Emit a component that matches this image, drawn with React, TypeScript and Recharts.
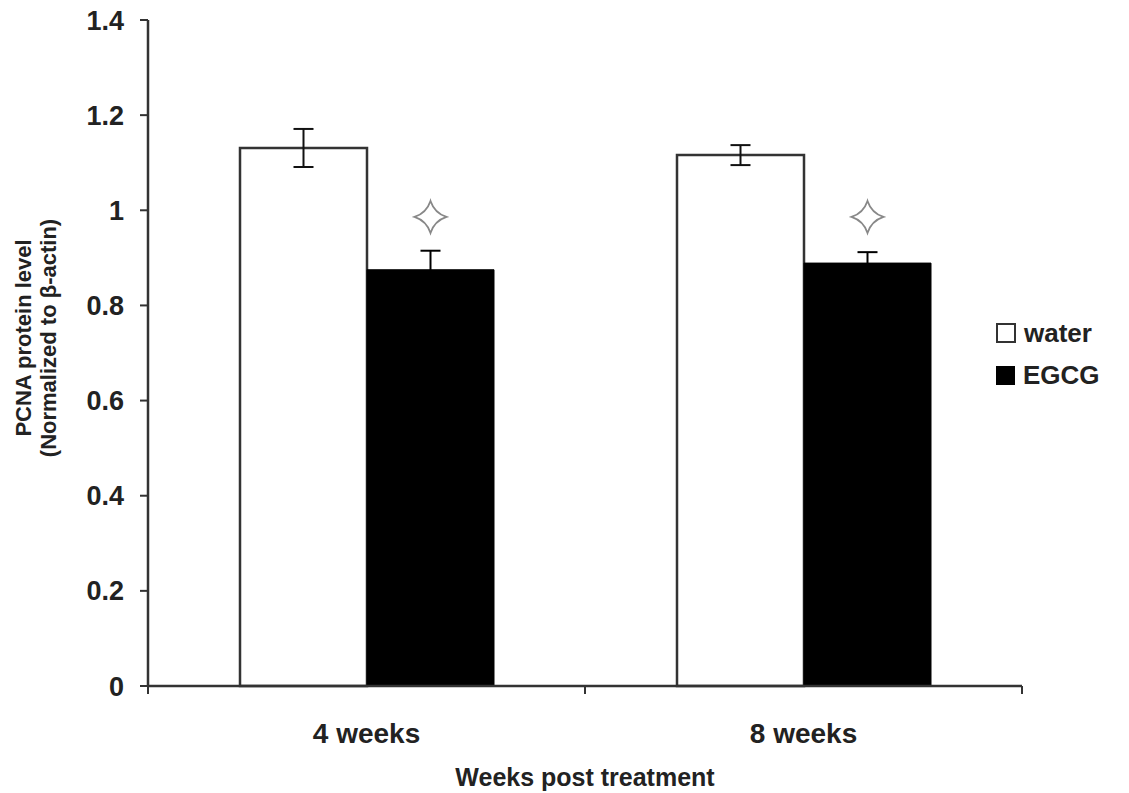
import React from 'react';
import { BarChart, Bar, XAxis, YAxis, ErrorBar, Legend, Rectangle } from 'recharts';

const categories = ['4 weeks', '8 weeks'];
const waterValues = [1.131, 1.116];
const waterErrors = [0.04, 0.021];
const egcgValues = [0.875, 0.889];
const egcgErrors = [0.04, 0.023];
const significanceMarks = [0.986, 0.986];
const yTicks = [0, 0.2, 0.4, 0.6, 0.8, 1, 1.2, 1.4];
const seriesNames = ['water', 'EGCG'];

const data = categories.map((c, i) => ({
  category: c,
  water: waterValues[i],
  waterErr: waterErrors[i],
  egcg: egcgValues[i],
  egcgErr: egcgErrors[i],
  sig: significanceMarks[i],
}));

const FONT = '"Liberation Sans", Arial, sans-serif';
const TEXT = '#222';
const AXIS = '#333';

const StarBar = (props: any) => {
  const { x, y, width, height, payload } = props;
  const baseline = y + height;
  const perUnit = height / payload.egcg;
  const sy = baseline - payload.sig * perUnit;
  const cx = x + width / 2;
  const r = 16;
  const c = 4;
  const d = `M${cx},${sy - r} Q${cx + c},${sy - c} ${cx + r},${sy} Q${cx + c},${sy + c} ${cx},${sy + r} Q${cx - c},${sy + c} ${cx - r},${sy} Q${cx - c},${sy - c} ${cx},${sy - r} Z`;
  return (
    <g>
      <Rectangle x={x} y={y} width={width} height={height} fill="#000" stroke="#000" strokeWidth={1} />
      <path d={d} fill="#fff" stroke="#888" strokeWidth={1.8} />
    </g>
  );
};

const CategoryTick = (props: any) => {
  const { x, y, payload, index, visibleTicksCount } = props;
  const off = payload.offset || 0;
  return (
    <g>
      <line x1={x - off} y1={y - 8} x2={x - off} y2={y} stroke={AXIS} strokeWidth={2} />
      {index === visibleTicksCount - 1 && (
        <line x1={x + off} y1={y - 8} x2={x + off} y2={y} stroke={AXIS} strokeWidth={2} />
      )}
      <text x={x} y={y + 39} textAnchor="middle" dominantBaseline="central" fontSize={28} fontWeight="bold" fill={TEXT} fontFamily={FONT}>
        {payload.value}
      </text>
    </g>
  );
};

const YLabel = (props: any) => {
  const vb = props.viewBox || { x: 0, y: 20, width: 148, height: 666 };
  const cy = vb.y + vb.height / 2 - 15;
  const x1 = vb.x + 23;
  const x2 = vb.x + 48;
  return (
    <g fontFamily={FONT} fontWeight="bold" fontSize={22} fill={TEXT}>
      <text x={x1} y={cy} textAnchor="middle" dominantBaseline="central" transform={`rotate(-90 ${x1} ${cy})`}>
        PCNA protein level
      </text>
      <text x={x2} y={cy} textAnchor="middle" dominantBaseline="central" transform={`rotate(-90 ${x2} ${cy})`}>
        (Normalized to β-actin)
      </text>
    </g>
  );
};

const XLabel = (props: any) => {
  const vb = props.viewBox || { x: 148, y: 686, width: 874, height: 107 };
  const cx = vb.x + vb.width / 2;
  const cy = vb.y + 91;
  return (
    <text x={cx} y={cy} textAnchor="middle" dominantBaseline="central" fontFamily={FONT} fontWeight="bold" fontSize={25} fill={TEXT}>
      Weeks post treatment
    </text>
  );
};

const LegendContent = () => (
  <div style={{ fontFamily: FONT, fontWeight: 'bold', fontSize: 26, color: TEXT }}>
    {seriesNames.map((n, i) => (
      <div key={n} style={{ display: 'flex', alignItems: 'center', height: 42 }}>
        <div
          style={{
            width: i === 0 ? 16 : 17,
            height: i === 0 ? 16 : 17,
            border: i === 0 ? `2px solid ${AXIS}` : '1px solid #000',
            background: i === 0 ? '#fff' : '#000',
            marginRight: 8,
          }}
        />
        <span>{n}</span>
      </div>
    ))}
  </div>
);

export default function App() {
  return (
    <div style={{ position: 'absolute', left: 0, top: 0, background: '#fff' }}>
      <BarChart
        width={1129}
        height={793}
        data={data}
        margin={{ top: 20, right: 107, bottom: 0, left: 0 }}
        barSize={127}
        barGap={0}
      >
        <XAxis
          dataKey="category"
          height={107}
          axisLine={{ stroke: AXIS, strokeWidth: 2.5 }}
          tickLine={false}
          tickSize={8}
          tickMargin={0}
          tick={<CategoryTick />}
          interval={0}
          label={<XLabel />}
        />
        <YAxis
          width={148}
          domain={[0, 1.4]}
          ticks={yTicks}
          tickFormatter={(v: number) => String(v)}
          axisLine={{ stroke: AXIS, strokeWidth: 2.5 }}
          tickLine={{ stroke: AXIS, strokeWidth: 2 }}
          tickSize={8}
          tickMargin={16}
          tick={{ fontSize: 27, fontWeight: 'bold', fill: TEXT, fontFamily: FONT }}
          label={<YLabel />}
        />
        <Legend
          layout="horizontal"
          verticalAlign="middle"
          align="center"
          wrapperStyle={{ position: 'absolute', left: 996, top: 312, width: 133 }}
          content={<LegendContent />}
        />
        <Bar dataKey="water" name="water" fill="#fff" stroke={AXIS} strokeWidth={2.5} isAnimationActive={false}>
          <ErrorBar dataKey="waterErr" width={10} stroke="#111" strokeWidth={2} />
        </Bar>
        <Bar dataKey="egcg" name="EGCG" fill="#000" shape={<StarBar />} isAnimationActive={false}>
          <ErrorBar dataKey="egcgErr" width={10} stroke="#000" strokeWidth={2} />
        </Bar>
      </BarChart>
    </div>
  );
}
